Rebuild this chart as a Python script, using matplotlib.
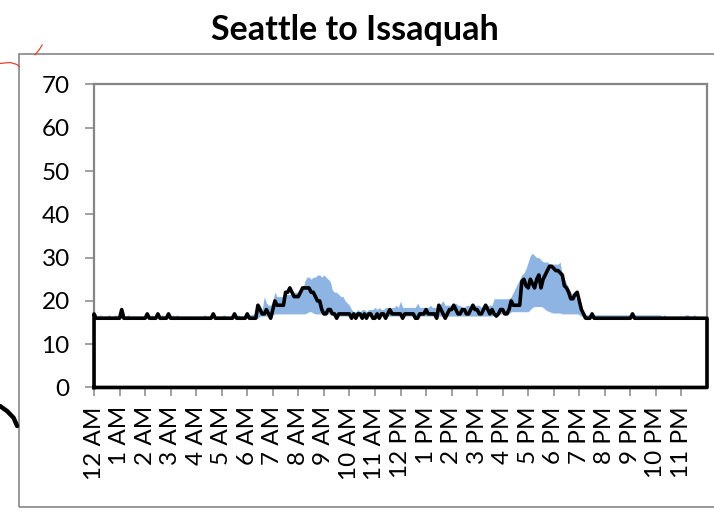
import numpy as np
import matplotlib.pyplot as plt
from matplotlib.lines import Line2D
from matplotlib.patches import Rectangle

plt.rcParams['font.family'] = ['Lato', 'DejaVu Sans']

# travel time in minutes, one row per hour, 5-minute steps
typical = [
    [17, 16, 16, 16, 16, 16, 16, 16, 16, 16, 16, 16],  # 12 AM
    [16, 18, 16, 16, 16, 16, 16, 16, 16, 16, 16, 16],
    [16, 17, 16, 16, 16, 16, 17, 16, 16, 16, 16, 17],
    [16, 16, 16, 16, 16, 16, 16, 16, 16, 16, 16, 16],
    [16, 16, 16, 16, 16, 16, 16, 16, 17, 16, 16, 16],
    [16, 16, 16, 16, 16, 16, 17, 16, 16, 16, 16, 16],
    [17, 16, 16, 16, 16, 19, 18, 17, 17, 18, 17, 16],
    [18, 20, 19, 19, 19, 19, 22, 22, 23, 22, 21, 21],
    [21, 22, 23, 23, 23, 23, 22, 22, 21, 20, 20, 18],
    [17, 17, 18, 18, 17, 17, 16, 17, 17, 17, 17, 17],
    [17, 16, 17, 16, 17, 17, 16, 17, 16, 17, 17, 16],
    [16, 17, 16, 17, 17, 16, 17, 18, 17, 17, 17, 17],
    [17, 16, 17, 17, 17, 17, 17, 16, 16, 17, 17, 17],  # 12 PM
    [18, 17, 17, 17, 17, 16, 19, 18, 17, 16, 17, 18],
    [18, 19, 18, 17, 17, 18, 18, 17, 17, 18, 19, 18],
    [18, 17, 17, 18, 19, 18, 17, 18, 17, 16.5, 17, 18],
    [18, 17, 17, 18, 20, 19, 19, 19, 19, 24.5, 25, 23.5],
    [23, 25, 24, 23, 25, 26, 23, 25, 26, 27, 28, 28],
    [27.5, 27, 27, 26.5, 26, 23.5, 23, 22, 20.5, 20.5, 21.5, 22],
    [20, 18, 17, 16, 16, 16, 17, 16, 16, 16, 16, 16],
    [16, 16, 16, 16, 16, 16, 16, 16, 16, 16, 16, 16],
    [16, 17, 16, 16, 16, 16, 16, 16, 16, 16, 16, 16],
    [16, 16, 16, 16, 16, 16, 16, 16, 16, 16, 16, 16],
    [16, 16, 16, 16, 16, 16, 16, 16, 16, 16, 16, 16],
]

range_high = [
    [16.5, 16.5, 16.5, 16.8, 16.5, 16.5, 16.5, 16.8, 16.5, 16.5, 16.8, 16.5],
    [16.5, 16.5, 16.5, 16.5, 16.8, 16.5, 16.5, 16.5, 16.5, 16.5, 16.5, 16.5],
    [16.5, 16.5, 16.5, 16.8, 16.5, 16.5, 16.5, 16.5, 16.8, 16.5, 16.5, 16.5],
    [16.5, 16.8, 16.5, 16.8, 16.5, 16.5, 16.5, 16.5, 16.5, 16.5, 16.5, 16.5],
    [16.5, 16.5, 16.5, 16.5, 16.8, 16.5, 16.5, 16.5, 16.5, 16.5, 16.5, 16.5],
    [16.5, 16.8, 16.5, 16.5, 16.5, 16.5, 16.5, 16.5, 16.8, 16.5, 16.5, 16.5],
    [16.8, 16.8, 16.8, 17, 17.5, 19.5, 19, 18, 21, 19.5, 19, 19],
    [20, 22, 21, 21, 21, 21, 21.5, 21.5, 21.5, 21.5, 22, 22],
    [22, 22, 22.5, 24.5, 25.5, 25.5, 25, 25.5, 25.5, 26, 26, 25.5],
    [26, 25.5, 25, 24.5, 22.5, 22, 22, 21.5, 21, 21, 20, 19.5],
    [19, 18, 17.5, 17.5, 18, 17.5, 18, 18, 17.5, 18, 18, 18],
    [18.5, 18, 18.5, 18, 18, 18.5, 18.5, 18, 18.5, 18.5, 19, 18.5],
    [20, 18.5, 18.5, 18.5, 18.5, 18.5, 18.5, 18.5, 19.5, 18.5, 18.5, 18.5],
    [18.5, 18.5, 19, 18.5, 18.5, 18.5, 18.5, 19.5, 20, 19, 19, 19],
    [19, 19, 19.5, 19, 19, 18.5, 18.5, 19, 19, 18.5, 19, 19],
    [19, 19, 18.5, 19, 19, 19, 19, 19, 20.5, 20.5, 20.5, 20.5],
    [20.5, 20.5, 20.5, 20.5, 21, 22, 23, 24, 25, 26, 26.5, 27.5],
    [29, 30.5, 31, 30.5, 30, 30, 29.5, 29, 29, 29, 28.5, 28.5],
    [28.5, 28.5, 28.5, 29, 26, 25, 24, 23, 22, 21.5, 21, 20],
    [19, 18, 17, 16.8, 16.8, 16.8, 16.8, 16.8, 16.8, 16.8, 16.8, 16.8],
    [16.8, 16.8, 16.8, 16.8, 16.8, 16.8, 16.8, 16.8, 16.8, 16.8, 16.8, 16.8],
    [16.8, 16.8, 16.8, 16.8, 16.8, 16.8, 16.8, 16.8, 16.8, 16.8, 16.8, 16.8],
    [16.8, 16.8, 16.8, 16.5, 16.8, 16.5, 16.5, 16.5, 16.5, 16.5, 16.5, 16.5],
    [16.5, 16.5, 16.8, 16.8, 16.5, 16.5, 16.8, 16.5, 16, 16, 16, 16],
]

range_low = [
    [16] * 12,
    [16] * 12,
    [16] * 12,
    [16] * 12,
    [16] * 12,
    [16] * 12,
    [16, 16, 16, 16, 16, 16, 16.5, 16.5, 16.5, 16.5, 16.5, 16.5],
    [16.8, 17, 17, 17, 17, 17, 17, 17, 17, 17, 17, 17],
    [17, 17, 17, 17, 17.2, 17.5, 17.5, 17.2, 17, 17, 17, 17],
    [17, 17, 17, 17, 17, 17, 16.8, 16.5, 16.5, 16.5, 16.5, 16.5],
    [16.5] * 12,
    [16.5] * 12,
    [16.5] * 12,
    [16.5] * 12,
    [16.5] * 12,
    [16.5, 16.5, 16.5, 16.5, 16.5, 16.5, 16.5, 16.5, 17, 17, 17, 17],
    [17, 17, 17, 17, 17.5, 17.5, 17.5, 17.5, 17.5, 17.5, 17.5, 17.5],
    [17.5, 18, 18.5, 18.7, 18.7, 18.7, 18.7, 18.5, 18, 17.7, 17.5, 17.3],
    [17.2, 17.2, 17.2, 17.2, 17, 17, 17, 17, 17, 17, 17, 17],
    [16.8, 16.5, 16, 16, 16, 16, 16, 16, 16, 16, 16, 16],
    [16] * 12,
    [16] * 12,
    [16] * 12,
    [16] * 12,
]

hour_labels = ['12 AM'] + [f'{h} AM' for h in range(1, 12)] + \
              ['12 PM'] + [f'{h} PM' for h in range(1, 12)]

typ = np.array(typical, dtype=float).ravel()
hi = np.array(range_high, dtype=float).ravel()
lo = np.array(range_low, dtype=float).ravel()
t = np.arange(len(typ)) / 12.0

grey = '#868686'
fig = plt.figure(figsize=(7.14, 5.12), dpi=100)

# chart area frame
fig.add_artist(Rectangle((0.0266, 0.0098), 1.0, 0.885, transform=fig.transFigure,
                         fill=False, edgecolor=grey, lw=1.2))

ax = fig.add_axes([0.1317, 0.2432, 0.8585, 0.5918])
ax.fill_between(t, lo, hi, color='#8db4e2', lw=0)

# typical series drawn as a closed outline, like an unfilled area chart
x = np.concatenate([[0], t, [24, 24, 0]])
y = np.concatenate([[0], typ, [typ[-1], 0, 0]])
ax.plot(x, y, color='black', lw=2.6, clip_on=False, zorder=5)

ax.set_xlim(0, 24)
ax.set_ylim(0, 70)
ax.set_yticks(range(0, 71, 10))
ax.set_xticks(range(24))
ax.set_xticklabels(hour_labels, rotation=90)

for s in ax.spines.values():
    s.set_color(grey)
    s.set_linewidth(1.6)
ax.tick_params(direction='out', length=6.5, width=1.1, color=grey, labelsize=17.5)
ax.tick_params(axis='y', pad=11)
ax.tick_params(axis='x', pad=7)

fig.text(0.497, 0.941, 'Seattle to Issaquah', ha='center', va='center',
         fontsize=24.5, fontweight='bold')

# pen marks in the margin
fig.add_artist(Line2D([0.0, 0.014, 0.024, 0.0266], [0.876, 0.878, 0.874, 0.870],
                      transform=fig.transFigure, color='#e8402a', lw=0.9))
fig.add_artist(Line2D([0.049, 0.055, 0.059], [0.893, 0.903, 0.912],
                      transform=fig.transFigure, color='#e8402a', lw=0.9))
fig.add_artist(Line2D([0.0, 0.01, 0.019, 0.024], [0.207, 0.197, 0.184, 0.168],
                      transform=fig.transFigure, color='black', lw=3.2,
                      solid_capstyle='round'))

fig.savefig('out.png', dpi=100)
